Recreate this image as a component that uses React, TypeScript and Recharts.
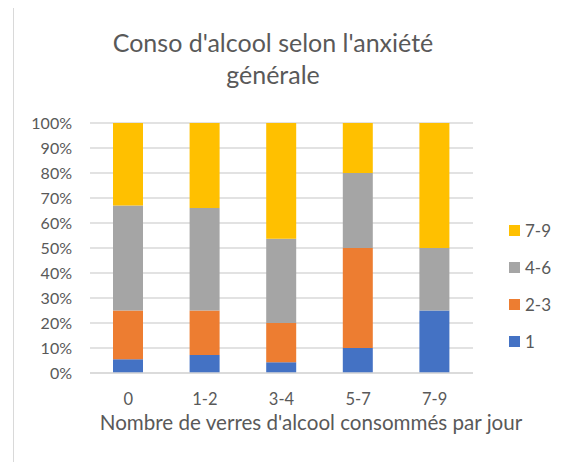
import React from 'react';
import { BarChart, Bar, XAxis, YAxis, CartesianGrid } from 'recharts';

const categories = ['0', '1-2', '3-4', '5-7', '7-9'];
const series1 = [5.5, 7.2, 4.3, 10, 25];
const series23 = [19.5, 17.8, 15.7, 40, 0];
const series46 = [42, 41, 33.7, 30, 25];
const series79 = [33, 34, 46.3, 20, 50];
const yTicks = [0, 10, 20, 30, 40, 50, 60, 70, 80, 90, 100];
const seriesNames = ['1', '2-3', '4-6', '7-9'];
const colors = ['#4472C4', '#ED7D31', '#A5A5A5', '#FFC000'];

const data = categories.map((c, i) => ({
  cat: c,
  s1: series1[i],
  s23: series23[i],
  s46: series46[i],
  s79: series79[i],
}));

const FONT = 'Lato, "Open Sans", sans-serif';
const TEXT = '#595959';

export default function App() {
  const keys = ['s1', 's23', 's46', 's79'];
  const legendOrder = [3, 2, 1, 0];
  return (
    <div style={{ position: 'relative', width: 572, height: 462, margin: '-8px 0 0 -8px', background: '#fff', overflow: 'hidden', fontFamily: FONT }}>
      <div style={{ position: 'absolute', left: 13, top: 5, right: 0, bottom: 0, borderLeft: '1px solid #d9d9d9', borderTop: '1px solid #d9d9d9' }} />
      <div style={{ position: 'absolute', left: 0, width: 546, top: 26, textAlign: 'center', fontSize: 25, lineHeight: '32px', color: TEXT }}>
        Conso d'alcool selon l'anxiété<br />générale
      </div>
      <div style={{ position: 'absolute', left: 0, width: 622, top: 410, textAlign: 'center', fontSize: 20.6, color: TEXT }}>
        Nombre de verres d'alcool consommés par jour
      </div>
      <div style={{ position: 'absolute', left: 509, top: 212, fontSize: 17, color: TEXT }}>
        {legendOrder.map((i) => (
          <div key={i} style={{ display: 'flex', alignItems: 'center', height: 37 }}>
            <span style={{ display: 'inline-block', width: 11, height: 11, background: colors[i], marginRight: 5 }} />
            <span>{seriesNames[i]}</span>
          </div>
        ))}
      </div>
      <div style={{ position: 'absolute', left: 0, top: 0 }}>
        <BarChart width={572} height={462} data={data} margin={{ top: 123, right: 99, bottom: 0, left: 0 }}>
          <CartesianGrid vertical={false} stroke="#d9d9d9" strokeWidth={1.3} />
          <XAxis
            dataKey="cat"
            height={89}
            interval={0}
            axisLine={{ stroke: '#d9d9d9', strokeWidth: 1.3 }}
            tickLine={false}
            tickMargin={14}
            tick={{ fill: TEXT, fontSize: 16.5, fontFamily: FONT }}
          />
          <YAxis
            width={90}
            domain={[0, 100]}
            ticks={yTicks}
            interval={0}
            tickFormatter={(v: number) => `${v}%`}
            axisLine={false}
            tickLine={false}
            tickMargin={12}
            tick={{ fill: TEXT, fontSize: 16, fontFamily: FONT }}
          />
          {keys.map((k, i) => (
            <Bar key={k} dataKey={k} name={seriesNames[i]} stackId="a" fill={colors[i]} barSize={30} isAnimationActive={false} />
          ))}
        </BarChart>
      </div>
    </div>
  );
}
